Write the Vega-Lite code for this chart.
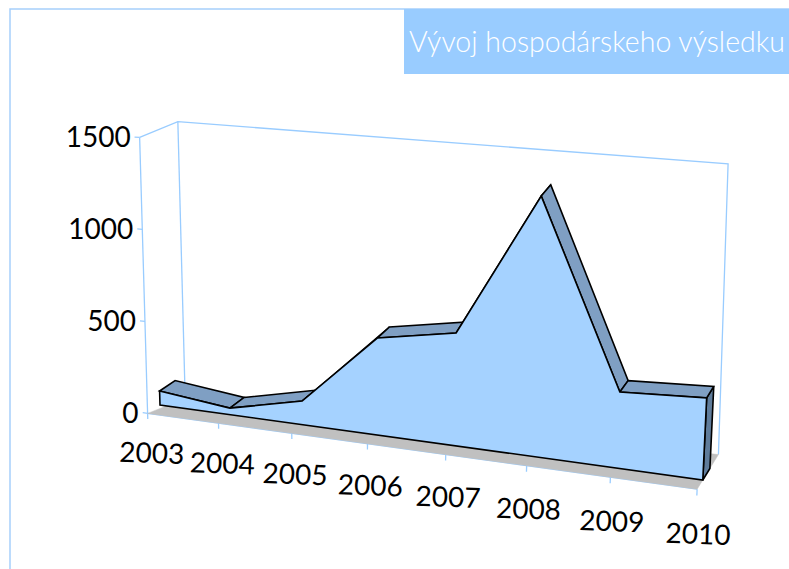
{"$schema":"https://vega.github.io/schema/vega-lite/v6.json","autosize":"none","padding":{"left":10,"top":9,"right":0,"bottom":0},"width":780,"height":561,"background":"white","config":{"view":{"stroke":"#A6CFFB","strokeWidth":1.5}},
"data":{"values":[
{"part":"wall","group":"leftaxis","order":1,"year":2003,"value":1500,"depth":-0.8},{"part":"wall","group":"leftaxis","order":2,"year":2003,"value":0,"depth":-0.8},
{"part":"wall","group":"floorfront","order":1,"year":2003,"value":0,"depth":-0.8},{"part":"wall","group":"floorfront","order":2,"year":2010,"value":0,"depth":-0.8},
{"part":"wall","group":"side","order":1,"year":2003,"value":1500,"depth":-0.8},{"part":"wall","group":"side","order":2,"year":2003.19,"value":1500,"depth":0.79},{"part":"wall","group":"side","order":3,"year":2010.08,"value":1500,"depth":0.5},{"part":"wall","group":"side","order":4,"year":2010,"value":0,"depth":2.2},
{"part":"wall","group":"backleft","order":1,"year":2003.19,"value":1500,"depth":0.79},{"part":"wall","group":"backleft","order":2,"year":2003.19,"value":0,"depth":0.79},
{"part":"wall","group":"t0","order":1,"year":2003,"value":0,"depth":-0.8},{"part":"wall","group":"t0","order":2,"year":2002.93,"value":0,"depth":-0.8},
{"part":"wall","group":"t500","order":1,"year":2003,"value":500,"depth":-0.8},{"part":"wall","group":"t500","order":2,"year":2002.93,"value":500,"depth":-0.8},
{"part":"wall","group":"t1000","order":1,"year":2003,"value":1000,"depth":-0.8},{"part":"wall","group":"t1000","order":2,"year":2002.93,"value":1000,"depth":-0.8},
{"part":"wall","group":"t1500","order":1,"year":2003,"value":1500,"depth":-0.8},{"part":"wall","group":"t1500","order":2,"year":2002.93,"value":1500,"depth":-0.8},
{"part":"wall","group":"x2003","order":1,"year":2003,"value":0,"depth":-0.8},{"part":"wall","group":"x2003","order":2,"year":2003,"value":-30,"depth":-0.8},
{"part":"wall","group":"x2004","order":1,"year":2004,"value":0,"depth":-0.8},{"part":"wall","group":"x2004","order":2,"year":2004,"value":-30,"depth":-0.8},
{"part":"wall","group":"x2005","order":1,"year":2005,"value":0,"depth":-0.8},{"part":"wall","group":"x2005","order":2,"year":2005,"value":-30,"depth":-0.8},
{"part":"wall","group":"x2006","order":1,"year":2006,"value":0,"depth":-0.8},{"part":"wall","group":"x2006","order":2,"year":2006,"value":-30,"depth":-0.8},
{"part":"wall","group":"x2007","order":1,"year":2007,"value":0,"depth":-0.8},{"part":"wall","group":"x2007","order":2,"year":2007,"value":-30,"depth":-0.8},
{"part":"wall","group":"x2008","order":1,"year":2008,"value":0,"depth":-0.8},{"part":"wall","group":"x2008","order":2,"year":2008,"value":-30,"depth":-0.8},
{"part":"wall","group":"x2009","order":1,"year":2009,"value":0,"depth":-0.8},{"part":"wall","group":"x2009","order":2,"year":2009,"value":-30,"depth":-0.8},
{"part":"wall","group":"x2010","order":1,"year":2010,"value":0,"depth":-0.8},{"part":"wall","group":"x2010","order":2,"year":2010,"value":-30,"depth":-0.8},
{"part":"floor","group":"floor","order":1,"year":2003,"value":0,"depth":-0.8},{"part":"floor","group":"floor","order":2,"year":2010,"value":0,"depth":-0.8},{"part":"floor","group":"floor","order":3,"year":2010,"value":0,"depth":2.2},{"part":"floor","group":"floor","order":4,"year":2003.19,"value":0,"depth":0.79},
{"part":"side","group":"side","order":1,"year":2010,"value":396,"depth":0},{"part":"side","group":"side","order":2,"year":2010,"value":396,"depth":1},{"part":"side","group":"side","order":3,"year":2010,"value":0,"depth":1},{"part":"side","group":"side","order":4,"year":2010,"value":0,"depth":0},
{"part":"top","group":"a","order":1,"year":2003,"value":76,"depth":0},{"part":"top","group":"a","order":2,"year":2003,"value":76,"depth":1},{"part":"top","group":"a","order":3,"year":2004,"value":35,"depth":1},{"part":"top","group":"a","order":4,"year":2004,"value":35,"depth":0},
{"part":"top","group":"b","order":1,"year":2004,"value":35,"depth":0},{"part":"top","group":"b","order":2,"year":2004,"value":35,"depth":1},{"part":"top","group":"b","order":3,"year":2005,"value":124,"depth":1},{"part":"top","group":"b","order":4,"year":2005,"value":124,"depth":0},
{"part":"top","group":"c","order":1,"year":2005,"value":124,"depth":0},{"part":"top","group":"c","order":2,"year":2005,"value":124,"depth":1},{"part":"top","group":"c","order":3,"year":2006,"value":502,"depth":1},{"part":"top","group":"c","order":4,"year":2006,"value":502,"depth":0},
{"part":"top","group":"d","order":1,"year":2006,"value":502,"depth":0},{"part":"top","group":"d","order":2,"year":2006,"value":502,"depth":1},{"part":"top","group":"d","order":3,"year":2007,"value":573,"depth":1},{"part":"top","group":"d","order":4,"year":2007,"value":573,"depth":0},
{"part":"top","group":"e","order":1,"year":2007,"value":573,"depth":0},{"part":"top","group":"e","order":2,"year":2007,"value":573,"depth":1},{"part":"top","group":"e","order":3,"year":2008,"value":1303,"depth":1},{"part":"top","group":"e","order":4,"year":2008,"value":1303,"depth":0},
{"part":"top","group":"f","order":1,"year":2008,"value":1303,"depth":0},{"part":"top","group":"f","order":2,"year":2008,"value":1303,"depth":1},{"part":"top","group":"f","order":3,"year":2009,"value":374,"depth":1},{"part":"top","group":"f","order":4,"year":2009,"value":374,"depth":0},
{"part":"top","group":"g","order":1,"year":2009,"value":374,"depth":0},{"part":"top","group":"g","order":2,"year":2009,"value":374,"depth":1},{"part":"top","group":"g","order":3,"year":2010,"value":396,"depth":1},{"part":"top","group":"g","order":4,"year":2010,"value":396,"depth":0},
{"part":"front","group":"front","order":1,"year":2003,"value":76,"depth":0},{"part":"front","group":"front","order":2,"year":2004,"value":35,"depth":0},{"part":"front","group":"front","order":3,"year":2005,"value":124,"depth":0},{"part":"front","group":"front","order":4,"year":2006,"value":502,"depth":0},{"part":"front","group":"front","order":5,"year":2007,"value":573,"depth":0},{"part":"front","group":"front","order":6,"year":2008,"value":1303,"depth":0},{"part":"front","group":"front","order":7,"year":2009,"value":374,"depth":0},{"part":"front","group":"front","order":8,"year":2010,"value":396,"depth":0},{"part":"front","group":"front","order":9,"year":2010,"value":0,"depth":0},{"part":"front","group":"front","order":10,"year":2003,"value":0,"depth":0},
{"part":"ylabel","year":2003,"value":0,"depth":-0.8,"label":"0"},{"part":"ylabel","year":2003,"value":500,"depth":-0.8,"label":"500"},{"part":"ylabel","year":2003,"value":1000,"depth":-0.8,"label":"1000"},{"part":"ylabel","year":2003,"value":1500,"depth":-0.8,"label":"1500"},
{"part":"xlabel","year":2003,"value":-225,"depth":-0.8,"label":"2003"},{"part":"xlabel","year":2004,"value":-225,"depth":-0.8,"label":"2004"},{"part":"xlabel","year":2005,"value":-225,"depth":-0.8,"label":"2005"},{"part":"xlabel","year":2006,"value":-225,"depth":-0.8,"label":"2006"},{"part":"xlabel","year":2007,"value":-225,"depth":-0.8,"label":"2007"},{"part":"xlabel","year":2008,"value":-225,"depth":-0.8,"label":"2008"},{"part":"xlabel","year":2009,"value":-225,"depth":-0.8,"label":"2009"},{"part":"xlabel","year":2010,"value":-225,"depth":-0.8,"label":"2010"}
]},
"transform":[
{"calculate":"datum.year-2003","as":"u"},
{"calculate":"1-0.016*datum.u","as":"den"},
{"calculate":"(160+66.3*datum.u)/datum.den+(-0.0053+0.00214*datum.u)*datum.value+datum.depth*(15.5-1.2*datum.u)","as":"px"},
{"calculate":"(405+3.03*datum.u-0.184*datum.value)/datum.den-datum.depth*(10.5+0.15*datum.u)","as":"py"}
],
"encoding":{
"x":{"field":"px","type":"quantitative","scale":{"domain":[10,790],"nice":false,"zero":false},"axis":null},
"y":{"field":"py","type":"quantitative","scale":{"domain":[570,9],"nice":false,"zero":false},"axis":null}
},
"layer":[
{"mark":{"type":"rect","color":"#99CCFF"},"encoding":{"x":{"datum":404,"type":"quantitative"},"x2":{"datum":790},"y":{"datum":9,"type":"quantitative"},"y2":{"datum":74}},"transform":[{"filter":"datum.label=='0'"}]},
{"mark":{"type":"text","text":"Vývoj hospodárskeho výsledku","font":"Lato","fontSize":28.5,"fontWeight":300,"color":"white","align":"center","baseline":"middle"},"encoding":{"x":{"datum":597,"type":"quantitative"},"y":{"datum":43,"type":"quantitative"}},"transform":[{"filter":"datum.label=='0'"}]},
{"transform":[{"filter":"datum.part=='wall'"}],"mark":{"type":"line","color":"#99CCFF","strokeWidth":1.3},"encoding":{"detail":{"field":"group"},"order":{"field":"order"}}},
{"transform":[{"filter":"datum.part=='floor'"}],"mark":{"type":"line","interpolate":"linear-closed","fill":"#C0C0C0","stroke":"#C0C0C0","strokeWidth":0.5},"encoding":{"detail":{"field":"group"},"order":{"field":"order"}}},
{"transform":[{"filter":"datum.part=='side'"}],"mark":{"type":"line","interpolate":"linear-closed","fill":"#5F7C9B","stroke":"black","strokeWidth":1.6},"encoding":{"detail":{"field":"group"},"order":{"field":"order"}}},
{"transform":[{"filter":"datum.part=='top'"}],"mark":{"type":"line","interpolate":"linear-closed","fill":"#7F9FC3","stroke":"black","strokeWidth":1.6},"encoding":{"detail":{"field":"group"},"order":{"field":"order"}}},
{"transform":[{"filter":"datum.part=='front'"}],"mark":{"type":"line","interpolate":"linear-closed","fill":"#A5D2FF","stroke":"black","strokeWidth":1.6},"encoding":{"detail":{"field":"group"},"order":{"field":"order"}}},
{"transform":[{"filter":"datum.part=='ylabel'"}],"mark":{"type":"text","font":"Lato","fontSize":28,"color":"black","align":"right","baseline":"middle","dx":-9,"dy":2},"encoding":{"text":{"field":"label"}}},
{"transform":[{"filter":"datum.part=='xlabel'"}],"mark":{"type":"text","font":"Lato","fontSize":28,"color":"black","align":"center","baseline":"middle","angle":2,"dx":3},"encoding":{"text":{"field":"label"}}}
]}
